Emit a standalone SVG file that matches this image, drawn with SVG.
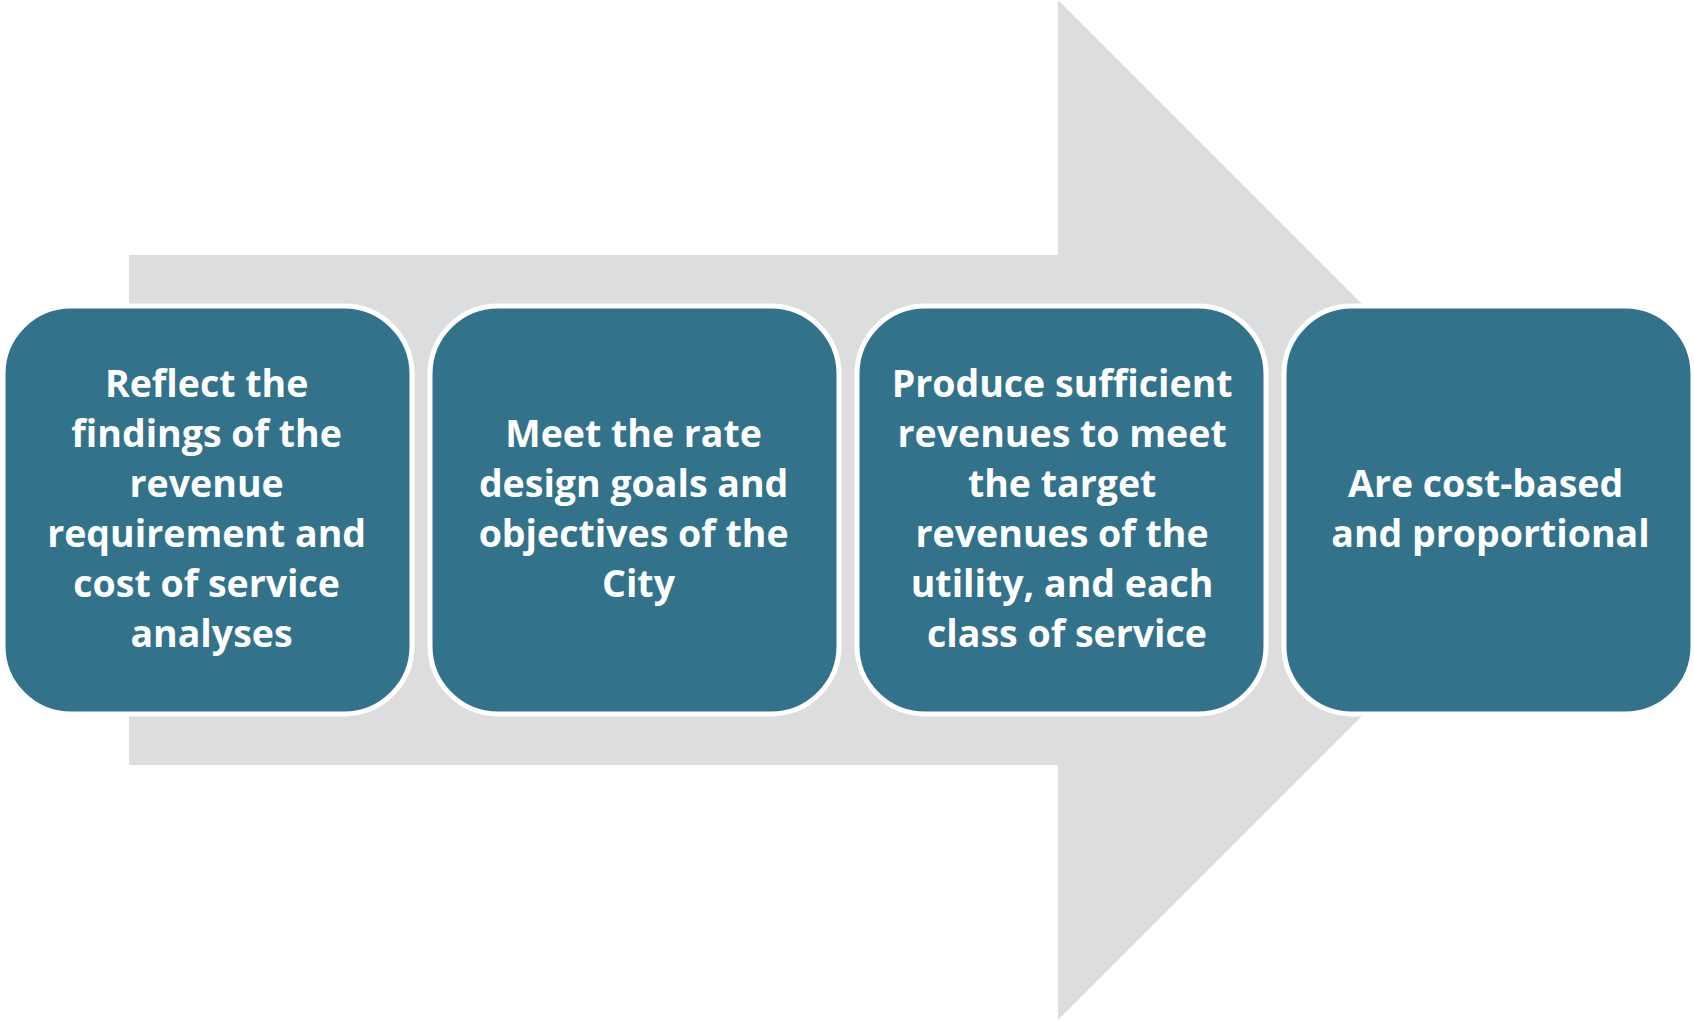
<svg xmlns="http://www.w3.org/2000/svg" width="1694" height="1021" viewBox="0 0 1694 1021">
  <style>
    .box { fill: #32728A; stroke: #FFFFFF; stroke-width: 5; }
    .label { font-family: "Open Sans", "Liberation Sans", sans-serif; font-weight: 700; font-size: 37.5px; fill: #FFFFFF; text-anchor: middle; }
  </style>
  <rect width="1694" height="1021" fill="#FFFFFF"/>
  <!-- background block arrow -->
  <g id="connectors">
    <polygon points="129,255 1058,255 1058,0 1568,510 1058,1020 1058,765 129,765" fill="#DCDDDF"/>
  </g>
  <g id="node1">
    <rect class="box" x="3" y="306" width="409" height="408" rx="68" ry="68"/>
    <text class="label">
      <tspan x="211.5" y="397">Reflect the</tspan>
      <tspan x="211.5" y="447">findings of the</tspan>
      <tspan x="211.5" y="497">revenue</tspan>
      <tspan x="211.5" y="547">requirement and</tspan>
      <tspan x="211.5" y="597">cost of service</tspan>
      <tspan x="211.5" y="647">analyses</tspan>
    </text>
  </g>
  <g id="node2">
    <rect class="box" x="430" y="306" width="409" height="408" rx="68" ry="68"/>
    <text class="label">
      <tspan x="638.5" y="447">Meet the rate</tspan>
      <tspan x="638.5" y="497">design goals and</tspan>
      <tspan x="638.5" y="547">objectives of the</tspan>
      <tspan x="638.5" y="597">City</tspan>
    </text>
  </g>
  <g id="node3">
    <rect class="box" x="857" y="306" width="409" height="408" rx="68" ry="68"/>
    <text class="label">
      <tspan x="1067" y="397">Produce sufficient</tspan>
      <tspan x="1067" y="447">revenues to meet</tspan>
      <tspan x="1067" y="497">the target</tspan>
      <tspan x="1067" y="547">revenues of the</tspan>
      <tspan x="1067" y="597">utility, and each</tspan>
      <tspan x="1067" y="647">class of service</tspan>
    </text>
  </g>
  <g id="node4">
    <rect class="box" x="1284" y="306" width="409" height="408" rx="68" ry="68"/>
    <text class="label">
      <tspan x="1490.5" y="497">Are cost-based</tspan>
      <tspan x="1490.5" y="547">and proportional</tspan>
    </text>
  </g>
</svg>
